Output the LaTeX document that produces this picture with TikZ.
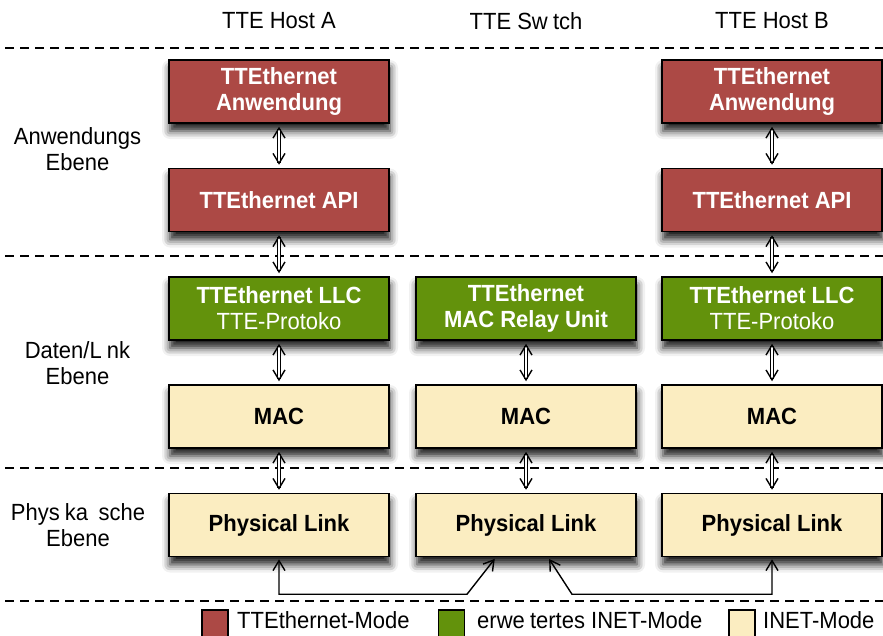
\documentclass[tikz,border=0pt]{standalone}
\usepackage{fontspec}
\setmainfont{Liberation Sans}[FakeStretch=0.94]
\usetikzlibrary{arrows.meta,shadows.blur}
\definecolor{tred}{HTML}{AC4945}
\definecolor{tgreen}{HTML}{63920C}
\definecolor{tyellow}{HTML}{FBEDC1}
\newcommand{\gi}{\hspace{0.222em}}
\begin{document}
\begin{tikzpicture}[x=1pt,y=-1pt,
  txt/.style={font=\fontsize{23.4}{26}\selectfont, align=center, inner sep=0pt},
  box/.style={draw=black, line width=1.5pt, minimum width=220pt, minimum height=63pt,
    inner sep=0pt, align=center, font=\fontsize{23.4}{26}\selectfont\bfseries,
    blur shadow={shadow xshift=1pt, shadow yshift=-8pt, shadow blur radius=8pt, shadow opacity=90}},
  redbox/.style={box, fill=tred, text=white},
  greenbox/.style={box, fill=tgreen, text=white},
  yellowbox/.style={box, fill=tyellow, text=black},
  sep/.style={line width=1.2pt, dash pattern=on 9pt off 6pt, dash phase=-5pt},
  dblarrow/.style={double=white, double distance=2pt, line width=0.9pt,
    {Straight Barb[length=10pt,width=12pt,line width=1.4pt]}-{Straight Barb[length=10pt,width=12pt,line width=1.4pt]},
    shorten <=3pt, shorten >=3pt},
  conn/.style={line width=1.4pt,
    {Straight Barb[length=10pt,width=12pt]}-{Straight Barb[length=10pt,width=12pt]},
    shorten <=2pt, shorten >=2pt},
  legbox/.style={draw=black, line width=1.2pt, minimum width=26pt, minimum height=27pt, inner sep=0pt}
]
\useasboundingbox (0,0) rectangle (883,635);

% headers
\node[txt] (hA) at (279,21) {TTE Host A};
\node[txt] (hS) at (526,21) {TTE Sw\gi tch};
\node[txt] (hB) at (772,21) {TTE Host B};

% separators
\coordinate (l1a) at (0,48);   \coordinate (l1b) at (883,48);
\coordinate (l2a) at (0,256);  \coordinate (l2b) at (883,256);
\coordinate (l3a) at (0,468);  \coordinate (l3b) at (883,468);
\coordinate (l4a) at (0,601);  \coordinate (l4b) at (883,601);
\draw[sep] (l1a) -- (l1b);
\draw[sep] (l2a) -- (l2b);
\draw[sep] (l3a) -- (l3b);
\draw[sep] (l4a) -- (l4b);

% layer labels
\node[txt] (lab1) at (77.5,149) {Anwendungs\\Ebene};
\node[txt] (lab2) at (77.5,363) {Daten/L\gi nk\\Ebene};
\node[txt] (lab3) at (78,525) {Phys\gi ka\gi\gi sche\\Ebene};

% host A
\node[redbox] (aApp) at (279,91.5) {TTEthernet\\Anwendung};
\node[redbox] (aAPI) at (279,200) {TTEthernet API};
\node[greenbox] (aLLC) at (279,308.5) {TTEthernet LLC\\\mdseries TTE-Protoko};
\node[yellowbox] (aMAC) at (279,416.5) {MAC};
\node[yellowbox] (aPL) at (279,525) {Physical Link};

% switch
\node[greenbox] (sMRU) at (526,308.5) {TTEthernet\\MAC Relay Unit};
\node[yellowbox] (sMAC) at (526,416.5) {MAC};
\node[yellowbox] (sPL) at (526,525) {Physical Link};

% host B
\node[redbox] (bApp) at (772,91.5) {TTEthernet\\Anwendung};
\node[redbox] (bAPI) at (772,200) {TTEthernet API};
\node[greenbox] (bLLC) at (772,308.5) {TTEthernet LLC\\\mdseries TTE-Protoko};
\node[yellowbox] (bMAC) at (772,416.5) {MAC};
\node[yellowbox] (bPL) at (772,525) {Physical Link};

% vertical arrows
\draw[dblarrow] (aApp) -- (aAPI);
\draw[dblarrow] (aAPI) -- (aLLC);
\draw[dblarrow] (aLLC) -- (aMAC);
\draw[dblarrow] (aMAC) -- (aPL);
\draw[dblarrow] (sMRU) -- (sMAC);
\draw[dblarrow] (sMAC) -- (sPL);
\draw[dblarrow] (bApp) -- (bAPI);
\draw[dblarrow] (bAPI) -- (bLLC);
\draw[dblarrow] (bLLC) -- (bMAC);
\draw[dblarrow] (bMAC) -- (bPL);

% physical connections
\draw[conn] (aPL.south) -- ++(0,37) -- ++(188,0) -- ([xshift=-30pt]sPL.south);
\draw[conn] ([xshift=22pt]sPL.south) -- ++(24,37) -| (bPL.south);

% legend
\node[legbox, fill=tred] (k1) at (215,623.5) {};
\node[txt, anchor=base west] (t1) at (237,628) {TTEthernet-Mode};
\node[legbox, fill=tgreen] (k2) at (451.5,623.5) {};
\node[txt, anchor=base west] (t2) at (477,628) {erwe\gi tertes INET-Mode};
\node[legbox, fill=tyellow] (k3) at (742,623.5) {};
\node[txt, anchor=base west] (t3) at (763,628) {INET-Mode};
\end{tikzpicture}
\end{document}
